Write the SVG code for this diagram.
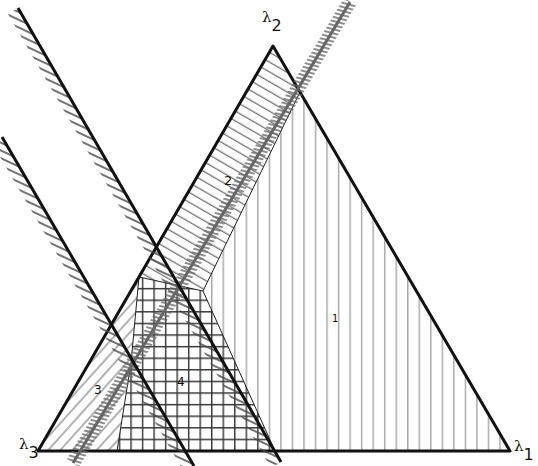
<svg xmlns="http://www.w3.org/2000/svg" width="538" height="466" viewBox="0 0 538 466">
<style>
.thick{stroke:#111;stroke-width:3;fill:none;stroke-linejoin:round}
.thin{stroke:#222;stroke-width:1;fill:none}
.lam{font-family:"DejaVu Serif","Liberation Serif",serif;font-size:15px;fill:#111}
.sub{font-family:"DejaVu Sans","Liberation Sans",sans-serif;font-size:16px;fill:#111}
.num{font-family:"DejaVu Sans","Liberation Sans",sans-serif;font-size:12px;fill:#111}
</style>
<defs>
<pattern id="vert" patternUnits="userSpaceOnUse" x="211" y="0" width="11.53" height="20">
<line x1="0.75" y1="0" x2="0.75" y2="20" stroke="#aaa" stroke-width="1.5"/>
</pattern>
<pattern id="grid" patternUnits="userSpaceOnUse" x="211" y="299.5" width="11.53" height="11.6">
<path d="M0.75 0V11.6M0 0.75H11.53" stroke="#333" stroke-width="1.4" fill="none"/>
</pattern>
<pattern id="diag2" patternUnits="userSpaceOnUse" width="40" height="8.5" patternTransform="rotate(30)">
<line x1="0" y1="4" x2="40" y2="4" stroke="#333" stroke-width="0.9"/>
</pattern>
<pattern id="diag3" patternUnits="userSpaceOnUse" width="40" height="9" patternTransform="rotate(-48)">
<line x1="0" y1="4" x2="40" y2="4" stroke="#555" stroke-width="0.9"/>
</pattern>
<pattern id="tick" patternUnits="userSpaceOnUse" width="40" height="7" patternTransform="rotate(25)">
<line x1="0" y1="3" x2="40" y2="3" stroke="#444" stroke-width="1.6"/>
</pattern>
<pattern id="gtick" patternUnits="userSpaceOnUse" width="40" height="4" patternTransform="rotate(15)">
<line x1="0" y1="2" x2="40" y2="2" stroke="#666" stroke-width="1.3"/>
</pattern>
</defs>
<rect width="538" height="466" fill="#fff"/>
<g id="regions">
<polygon id="region1" points="300,92 510,451 275,451 203,291" fill="url(#vert)"/>
<polygon id="region2" points="273,46 300,92 203,291 139,277" fill="url(#diag2)"/>
<polygon id="region3" points="38,451 117,451 131,363 139,277" fill="url(#diag3)"/>
<polygon id="region4" points="139,277 203,291 275,451 117,451 131,363" fill="url(#grid)"/>
</g>
<g id="boundaries">
<polyline class="thin" points="300,92 203,291 275,451"/>
<polyline class="thin" points="139,277 203,291"/>
<polyline class="thin" points="139,277 131,363 117,451"/>
</g>
<g id="triangle">
<polygon class="thick" points="38,451 273,46 510,451"/>
</g>
<g id="lines">
<polygon points="18,8 281,462 271,468 8,14" fill="url(#tick)"/>
<polygon points="2,137 194,466 184,472 -8,143" fill="url(#tick)"/>
<polygon points="356,5 79,467 67,459 344,-2" fill="url(#gtick)"/>
<line x1="350" y1="2" x2="73" y2="463" stroke="#666" stroke-width="3"/>
<line class="thick" x1="18" y1="8" x2="281" y2="462"/>
<line class="thick" x1="2" y1="137" x2="194" y2="466"/>
</g>
<g id="labels">
<text class="lam" x="262" y="22">λ<tspan class="sub" dy="9">2</tspan></text>
<text class="lam" x="19" y="449">λ<tspan class="sub" dy="9">3</tspan></text>
<text class="lam" x="514" y="451">λ<tspan class="sub" dy="9">1</tspan></text>
<text class="num" x="332" y="322" style="font-size:10px">1</text>
<text class="num" x="224" y="185" style="font-size:13px">2</text>
<text class="num" x="94" y="394">3</text>
<text class="num" x="177" y="386">4</text>
</g>
</svg>
